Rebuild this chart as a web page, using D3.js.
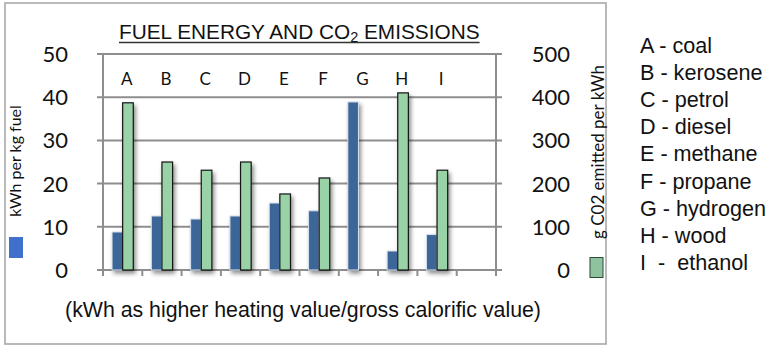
<!DOCTYPE html>
<html>
<head>
<meta charset="utf-8">
<script src="https://cdn.jsdelivr.net/npm/d3@7/dist/d3.min.js"></script>
<style>
  html, body { margin: 0; padding: 0; background: #fff; }
  svg { display: block; }
  text { white-space: pre; }
</style>
</head>
<body>
<svg id="chart" width="771" height="347"></svg>
<script>
// Fuel categories (the tenth slot is left empty on the category axis)
const categories = ["A", "B", "C", "D", "E", "F", "G", "H", "I", ""];
// Energy content, kWh per kg of fuel (higher heating value)
const energyKWhPerKg = [8.8, 12.5, 11.8, 12.5, 15.5, 13.7, 38.9, 4.4, 8.2];
// CO2 emitted, grams per kWh
const co2GramsPerKWh = [387, 250, 231, 250, 176, 213, 0, 410, 231];
// Axis ticks
const leftTicks = [0, 10, 20, 30, 40, 50];
const rightTicks = [0, 100, 200, 300, 400, 500];
// Key to the letters
const legendLabels = [
  "A - coal", "B - kerosene", "C - petrol", "D - diesel", "E - methane",
  "F - propane", "G - hydrogen", "H - wood", "I  -  ethanol"
];

const svg = d3.select("#chart");
const gridColor = "#8e8e8e";
const numFont = "Lato, 'Open Sans', sans-serif";
const sansFont = "'Liberation Sans', Arial, sans-serif";

// Outer frame
svg.append("rect")
  .attr("x", 5).attr("y", 3).attr("width", 601).attr("height", 341)
  .attr("fill", "none").attr("stroke", "#a8a8a8").attr("stroke-width", 1.6);

// Scales
const x = d3.scaleBand().domain(d3.range(categories.length)).range([103, 496]).padding(0);
const yL = d3.scaleLinear().domain([0, 50]).range([270, 54]);
const yR = d3.scaleLinear().domain([0, 500]).range([270, 54]);
const series = d3.scaleBand().domain(["energy", "co2"])
  .range([0, x.bandwidth()]).paddingInner(0).paddingOuter(0.85);

// Shadow under the bars
const defs = svg.append("defs");
const f = defs.append("filter").attr("id", "shadow")
  .attr("x", "-50%").attr("y", "-10%").attr("width", "200%").attr("height", "130%");
f.append("feDropShadow").attr("dx", 2).attr("dy", 3).attr("stdDeviation", 2)
  .attr("flood-color", "#000").attr("flood-opacity", 0.45);

// Horizontal gridlines with short outward ticks on both sides
const grid = svg.append("g");
grid.selectAll("line").data(leftTicks).join("line")
  .attr("x1", 97).attr("x2", 502)
  .attr("y1", d => yL(d)).attr("y2", d => yL(d))
  .attr("stroke", gridColor).attr("stroke-width", 2);

// Category ticks under the baseline
svg.append("g").selectAll("line")
  .data(d3.range(categories.length + 1)).join("line")
  .attr("x1", i => i < categories.length ? x(i) : x.range()[1])
  .attr("x2", i => i < categories.length ? x(i) : x.range()[1])
  .attr("y1", yL(0)).attr("y2", yL(0) + 6)
  .attr("stroke", gridColor).attr("stroke-width", 2);

// Vertical axis lines
[x.range()[0], x.range()[1]].forEach(px => {
  svg.append("line").attr("x1", px).attr("x2", px)
    .attr("y1", yL(50)).attr("y2", yL(0))
    .attr("stroke", gridColor).attr("stroke-width", 2);
});

// Bars
const bars = svg.append("g").attr("filter", "url(#shadow)");
bars.selectAll("rect.energy").data(energyKWhPerKg).join("rect")
  .attr("class", "energy")
  .attr("x", (d, i) => x(i) + series("energy"))
  .attr("width", series.bandwidth())
  .attr("y", d => yL(d))
  .attr("height", d => yL(0) - yL(d))
  .attr("fill", "#3e6698")
  .attr("stroke", "#d6e0ee").attr("stroke-width", 1);
bars.selectAll("rect.co2").data(co2GramsPerKWh.map((v, i) => ({v, i})).filter(d => d.v > 0)).join("rect")
  .attr("class", "co2")
  .attr("x", d => x(d.i) + series("co2"))
  .attr("width", series.bandwidth())
  .attr("y", d => yR(d.v))
  .attr("height", d => yR(0) - yR(d.v))
  .attr("fill", "#98d2a6")
  .attr("stroke", "#141414").attr("stroke-width", 1.2);

// Category letters along the top of the plot
svg.append("g").selectAll("text").data(categories.filter(c => c)).join("text")
  .attr("x", (d, i) => x(i) + x.bandwidth() / 2 + 4)
  .attr("y", 85)
  .attr("text-anchor", "middle")
  .attr("font-family", numFont).attr("font-size", 17).attr("fill", "#111")
  .text(d => d);

// Left axis labels
svg.append("g").selectAll("text").data(leftTicks).join("text")
  .attr("x", 68).attr("y", d => yL(d) + 8)
  .attr("text-anchor", "end")
  .attr("font-family", numFont).attr("font-size", 22).attr("fill", "#111")
  .text(d => d);

// Right axis labels
svg.append("g").selectAll("text").data(rightTicks).join("text")
  .attr("x", 570).attr("y", d => yR(d) + 8)
  .attr("text-anchor", "end")
  .attr("font-family", numFont).attr("font-size", 22).attr("fill", "#111")
  .text(d => d);

// Axis titles
svg.append("text")
  .attr("transform", "translate(21,161) rotate(-90)")
  .attr("text-anchor", "middle")
  .attr("font-family", numFont).attr("font-size", 16).attr("fill", "#111")
  .text("kWh per kg fuel");
svg.append("text")
  .attr("transform", "translate(604,152) rotate(-90)")
  .attr("text-anchor", "middle")
  .attr("font-family", numFont).attr("font-size", 17).attr("fill", "#111")
  .text("g C02 emitted per kWh");

// Series swatches
svg.append("rect").attr("x", 9).attr("y", 237).attr("width", 14).attr("height", 21)
  .attr("fill", "#3f70cc");
svg.append("rect").attr("x", 590).attr("y", 257.5).attr("width", 13).attr("height", 20)
  .attr("fill", "#8fc3a0").attr("stroke", "#2d4a36").attr("stroke-width", 1);

// Title with subscript and underline
const title = svg.append("text")
  .attr("x", 119).attr("y", 39)
  .attr("font-family", sansFont).attr("font-size", 20.8).attr("fill", "#111");
title.append("tspan").text("FUEL ENERGY AND CO");
title.append("tspan").attr("font-size", 14.5).attr("dy", 3).text("2");
title.append("tspan").attr("dy", -3).text(" EMISSIONS");
const tb = title.node().getBBox();
svg.append("line")
  .attr("x1", tb.x).attr("x2", tb.x + tb.width)
  .attr("y1", 42.5).attr("y2", 42.5)
  .attr("stroke", "#333").attr("stroke-width", 1.4);

// Category axis note
svg.append("text")
  .attr("x", 303).attr("y", 317)
  .attr("text-anchor", "middle")
  .attr("font-family", sansFont).attr("font-size", 21.3).attr("fill", "#111")
  .text("(kWh as higher heating value/gross calorific value)");

// Letter key
svg.append("g").selectAll("text").data(legendLabels).join("text")
  .attr("x", 640).attr("y", (d, i) => 53 + i * 27.1)
  .attr("font-family", sansFont).attr("font-size", 21.6).attr("fill", "#111")
  .text(d => d);
</script>
</body>
</html>
